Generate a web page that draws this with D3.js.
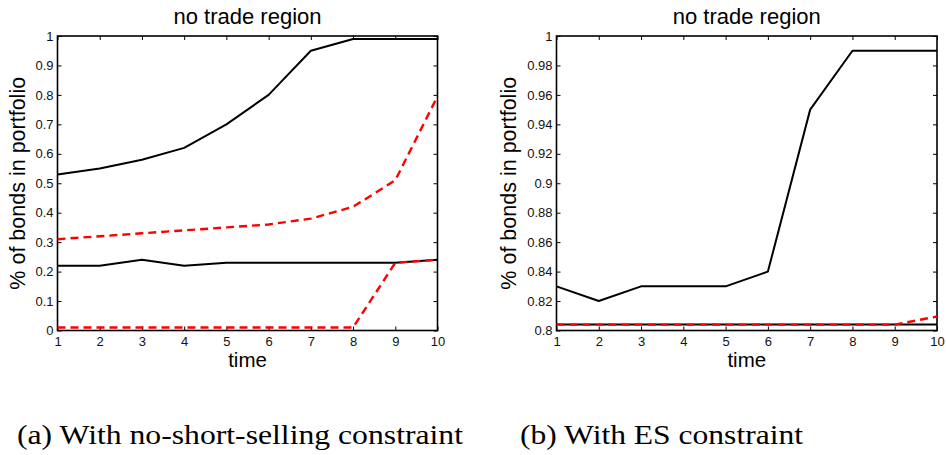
<!DOCTYPE html>
<html>
<head>
<meta charset="utf-8">
<script src="https://cdn.jsdelivr.net/npm/d3@7"></script>
<style>
  html, body { margin: 0; padding: 0; background: #fff; }
  svg { display: block; }
</style>
</head>
<body>
<svg id="chart" width="946" height="455"></svg>
<script>
// ---- data ----
const timeSteps = [1, 2, 3, 4, 5, 6, 7, 8, 9, 10];

// panel (a): with no-short-selling constraint
const aUpperBlack = [0.53, 0.55, 0.58, 0.62, 0.70, 0.80, 0.95, 0.99, 0.99, 0.99];
const aUpperRed   = [0.31, 0.32, 0.33, 0.34, 0.35, 0.36, 0.38, 0.42, 0.51, 0.795];
const aLowerBlack = [0.22, 0.22, 0.24, 0.22, 0.23, 0.23, 0.23, 0.23, 0.23, 0.24];
const aLowerRed   = [0.01, 0.01, 0.01, 0.01, 0.01, 0.01, 0.01, 0.01, 0.23, 0.24];
const aYTicks      = [0, 0.1, 0.2, 0.3, 0.4, 0.5, 0.6, 0.7, 0.8, 0.9, 1];
const aYTickLabels = ["0", "0.1", "0.2", "0.3", "0.4", "0.5", "0.6", "0.7", "0.8", "0.9", "1"];

// panel (b): with ES constraint
const bUpperBlack = [0.83, 0.82, 0.83, 0.83, 0.83, 0.84, 0.95, 0.99, 0.99, 0.99];
const bLowerBlack = [0.804, 0.804, 0.804, 0.804, 0.804, 0.804, 0.804, 0.804, 0.804, 0.804];
const bLowerRed   = [0.804, 0.804, 0.804, 0.804, 0.804, 0.804, 0.804, 0.804, 0.804, 0.8095];
const bYTicks      = [0.8, 0.82, 0.84, 0.86, 0.88, 0.9, 0.92, 0.94, 0.96, 0.98, 1];
const bYTickLabels = ["0.8", "0.82", "0.84", "0.86", "0.88", "0.9", "0.92", "0.94", "0.96", "0.98", "1"];

const xTicks = [1, 2, 3, 4, 5, 6, 7, 8, 9, 10];
const xTickLabels = ["1", "2", "3", "4", "5", "6", "7", "8", "9", "10"];

const panelTitle = "no trade region";
const xLabel = "time";
const yLabel = "% of bonds in portfolio";
const captionA = "(a) With no-short-selling constraint";
const captionB = "(b) With ES constraint";

// ---- drawing ----
const SANS = '"Liberation Sans", Arial, Helvetica, sans-serif';
const SERIF = '"Liberation Serif", "Times New Roman", Times, serif';
const svg = d3.select("#chart");

function drawPanel(cfg) {
  const g = svg.append("g");
  const x = d3.scaleLinear().domain([1, 10]).range([cfg.left, cfg.right]);
  const y = d3.scaleLinear().domain(cfg.yDomain).range([cfg.bottom, cfg.top]);
  const tickLen = 4;

  const bottomAxis = d3.axisBottom(x).tickValues(xTicks)
    .tickFormat((d, i) => xTickLabels[i]).tickSizeInner(-tickLen).tickSizeOuter(0).tickPadding(6);
  const topAxis = d3.axisTop(x).tickValues(xTicks).tickFormat("").tickSizeInner(-tickLen).tickSizeOuter(0);
  const leftAxis = d3.axisLeft(y).tickValues(cfg.yTicks)
    .tickFormat((d, i) => cfg.yTickLabels[i]).tickSizeInner(-tickLen).tickSizeOuter(0).tickPadding(4);
  const rightAxis = d3.axisRight(y).tickValues(cfg.yTicks).tickFormat("").tickSizeInner(-tickLen).tickSizeOuter(0);

  const axes = [
    g.append("g").attr("transform", `translate(0,${cfg.bottom})`).call(bottomAxis),
    g.append("g").attr("transform", `translate(0,${cfg.top})`).call(topAxis),
    g.append("g").attr("transform", `translate(${cfg.left},0)`).call(leftAxis),
    g.append("g").attr("transform", `translate(${cfg.right},0)`).call(rightAxis)
  ];
  axes.forEach(a => {
    a.attr("font-size", null).attr("font-family", null);
    a.select(".domain").remove();
    a.selectAll(".tick line").attr("stroke", "#000").attr("stroke-width", 1);
    a.selectAll(".tick text").attr("font-size", 13).attr("fill", "#111")
      .attr("font-family", SANS);
  });

  g.append("rect")
    .attr("x", cfg.left).attr("y", cfg.top)
    .attr("width", cfg.right - cfg.left).attr("height", cfg.bottom - cfg.top)
    .attr("fill", "none").attr("stroke", "#000").attr("stroke-width", 1.6);

  const line = d3.line().x((d, i) => x(timeSteps[i])).y(d => y(d));

  cfg.series.forEach(s => {
    g.append("path")
      .datum(s.values)
      .attr("d", line)
      .attr("fill", "none")
      .attr("stroke", s.color)
      .attr("stroke-width", s.dashed ? 2.4 : 2)
      .attr("stroke-dasharray", s.dashed ? "8,5" : null)
      .attr("stroke-linejoin", "round");
  });

  const cx = (cfg.left + cfg.right) / 2;
  g.append("text").attr("x", cx).attr("y", 24).attr("text-anchor", "middle")
    .attr("font-family", SANS).attr("font-size", 22).text(panelTitle);
  g.append("text").attr("x", cx).attr("y", 367).attr("text-anchor", "middle")
    .attr("font-family", SANS).attr("font-size", 20.5).text(xLabel);
  g.append("text")
    .attr("transform", `translate(${cfg.yLabelX},${(cfg.top + cfg.bottom) / 2}) rotate(-90)`)
    .attr("text-anchor", "middle")
    .attr("font-family", SANS).attr("font-size", 21.5).text(yLabel);
}

drawPanel({
  left: 57.5, right: 437.5, top: 36, bottom: 330.5,
  yDomain: [0, 1], yTicks: aYTicks, yTickLabels: aYTickLabels, yLabelX: 25,
  series: [
    { values: aUpperBlack, color: "#000", dashed: false },
    { values: aLowerBlack, color: "#000", dashed: false },
    { values: aUpperRed, color: "#ff0000", dashed: true },
    { values: aLowerRed, color: "#ff0000", dashed: true }
  ]
});

drawPanel({
  left: 556.5, right: 937, top: 36, bottom: 330.5,
  yDomain: [0.8, 1], yTicks: bYTicks, yTickLabels: bYTickLabels, yLabelX: 516,
  series: [
    { values: bUpperBlack, color: "#000", dashed: false },
    { values: bLowerBlack, color: "#000", dashed: false },
    { values: bLowerRed, color: "#ff0000", dashed: true }
  ]
});

svg.append("text").attr("x", 17).attr("y", 444)
  .attr("font-family", SERIF).attr("font-size", 28)
  .attr("textLength", 446).attr("lengthAdjust", "spacingAndGlyphs")
  .text(captionA);
svg.append("text").attr("x", 520).attr("y", 444)
  .attr("font-family", SERIF).attr("font-size", 28)
  .attr("textLength", 283).attr("lengthAdjust", "spacingAndGlyphs")
  .text(captionB);
</script>
</body>
</html>
